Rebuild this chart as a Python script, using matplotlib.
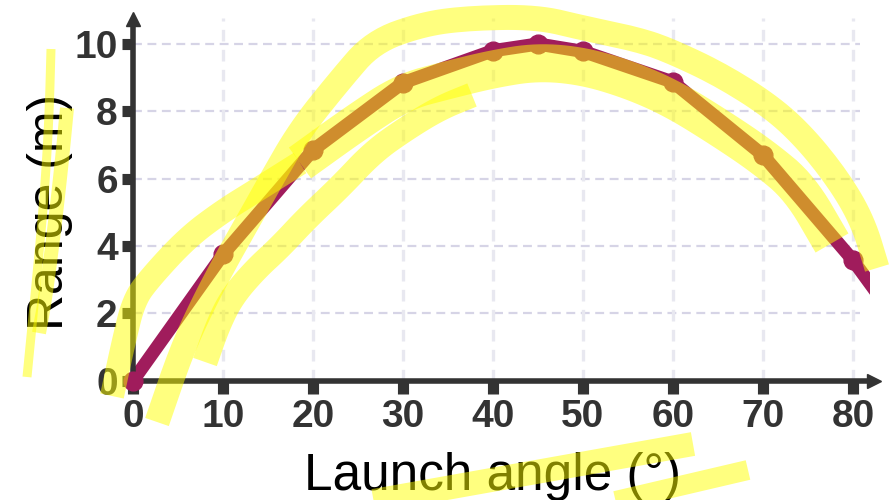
import matplotlib
matplotlib.use("Agg")
import matplotlib.pyplot as plt
from matplotlib.lines import Line2D
import numpy as np

# measured range vs launch angle
angle_deg = [0, 10, 20, 30, 40, 45, 50, 60, 70, 80, 85]
range_m = [0, 3.75, 6.85, 8.85, 9.8, 10.0, 9.78, 8.87, 6.7, 3.58, 1.75]

x_ticks = [0, 10, 20, 30, 40, 50, 60, 70, 80]
y_ticks = [0, 2, 4, 6, 8, 10]

# yellow highlighter strokes drawn over the chart (pixel coords, top-left origin)
hl_ylabel_thin = [(51, 49), (49, 120), (44, 200), (36, 285), (27, 377)]
hl_ylabel_wide = [(67, 108), (61, 170), (53, 240), (45, 300), (39, 333)]
hl_left_hook = [(112, 396), (124, 340), (134, 300), (150, 278), (187, 238),
                (223, 211), (257, 190), (300, 163)]
hl_hug = [(300, 163), (357, 122), (403, 92), (448, 80), (493, 69), (537, 62),
          (583, 66), (630, 80), (673, 99), (720, 128), (763, 157), (800, 188),
          (832, 243)]
hl_upper = [(157, 422), (180, 355), (200, 310), (225, 262), (250, 218), (270, 182),
            (300, 130), (340, 80), (373, 42), (423, 24), (470, 18), (537, 17),
            (583, 28), (640, 40), (673, 52), (723, 76), (773, 108), (807, 140),
            (840, 182), (863, 222), (877, 268)]
hl_lower = [(205, 362), (218, 325), (232, 297), (255, 270), (280, 247), (307, 218),
            (340, 187), (373, 152), (407, 128), (440, 108), (472, 95)]
hl_under_a = [(340, 507), (693, 444)]
hl_under_b = [(590, 507), (748, 470)]
strokes = [(hl_ylabel_thin, 9), (hl_ylabel_wide, 14), (hl_left_hook, 24),
           (hl_hug, 38), (hl_upper, 25), (hl_lower, 25),
           (hl_under_a, 24), (hl_under_b, 20)]

W, H = 892, 500
MAGENTA = "#a01c5c"
AXIS = "#333333"


def smooth(pts, n=3):
    # chaikin corner cutting, keeps the end points
    p = np.asarray(pts, float)
    for _ in range(n):
        if len(p) < 3:
            break
        q = [p[0]]
        for a, b in zip(p[:-1], p[1:]):
            q.append(0.75 * a + 0.25 * b)
            q.append(0.25 * a + 0.75 * b)
        q.append(p[-1])
        p = np.array(q)
    return p


fig = plt.figure(figsize=(W / 100, H / 100), dpi=100, facecolor="white")
ax = fig.add_axes([133 / W, (H - 380.7) / H, (870 - 133) / W, (380.7 - 13.7) / H])
ax.set_xlim(0, 81.9)
ax.set_ylim(0, 10.9)
for sp in ax.spines.values():
    sp.set_visible(False)

# dashed grid
ax.hlines(y_ticks[1:], 0, 80.8, colors="#d6d4e6", linestyles=(0, (4, 2.5)),
          lw=1.6, zorder=1)
ax.vlines(x_ticks[1:], 0, 10.77, colors="#e8e8f0", linestyles=(0, (3.5, 2.5)),
          lw=2.4, zorder=1)

# axes with arrow heads
ax.plot([0, 82.3], [0, 0], color=AXIS, lw=4, clip_on=False,
        solid_capstyle="butt", zorder=4)
ax.plot([0, 0], [0, 10.74], color=AXIS, lw=4, clip_on=False,
        solid_capstyle="butt", zorder=4)
ax.plot(82.3, 0, marker=">", ms=10, color=AXIS, clip_on=False, zorder=4)
ax.plot(0, 10.74, marker="^", ms=10, color=AXIS, clip_on=False, zorder=4)

# data
ax.plot(angle_deg, range_m, color=MAGENTA, lw=9.5, solid_joinstyle="round",
        solid_capstyle="round", zorder=3)
ang = np.array(angle_deg)
rng = np.array(range_m)
vis = ang <= ax.get_xlim()[1]
ax.plot(ang[vis], rng[vis], "o", ms=13.5, color=MAGENTA, clip_on=False, zorder=5)

tick_font = {"family": ["Liberation Sans Narrow", "Liberation Sans", "DejaVu Sans"],
             "weight": "bold", "size": 28}
ax.set_xticks(x_ticks)
ax.set_yticks(y_ticks)
ax.set_xticklabels([str(v) for v in x_ticks], fontdict=tick_font, color=AXIS)
ax.set_yticklabels([str(v) for v in y_ticks], fontdict=tick_font, color=AXIS)
ax.tick_params(axis="x", direction="out", length=9, width=8, color=AXIS, pad=4)
ax.tick_params(axis="y", direction="out", length=8, width=8, color=AXIS, pad=3)

label_font = ["Liberation Sans", "DejaVu Sans"]
fig.text(493 / W, 1 - 490 / H, "Launch angle (°)", ha="center", va="baseline",
         fontsize=37, family=label_font, color="black")
fig.text(50 / W, 1 - 212 / H, "Range (m)", rotation=90, ha="center", va="center",
         fontsize=36, family=label_font, color="black")

# highlighter overlay
for pts, width in strokes:
    p = smooth(pts)
    xs = p[:, 0] / W
    ys = 1 - p[:, 1] / H
    fig.add_artist(Line2D(xs, ys, transform=fig.transFigure, lw=width * 0.72,
                          color="#ffff00", alpha=0.5, solid_capstyle="butt",
                          solid_joinstyle="round", zorder=10))

fig.savefig("out.png", dpi=100, facecolor="white")
